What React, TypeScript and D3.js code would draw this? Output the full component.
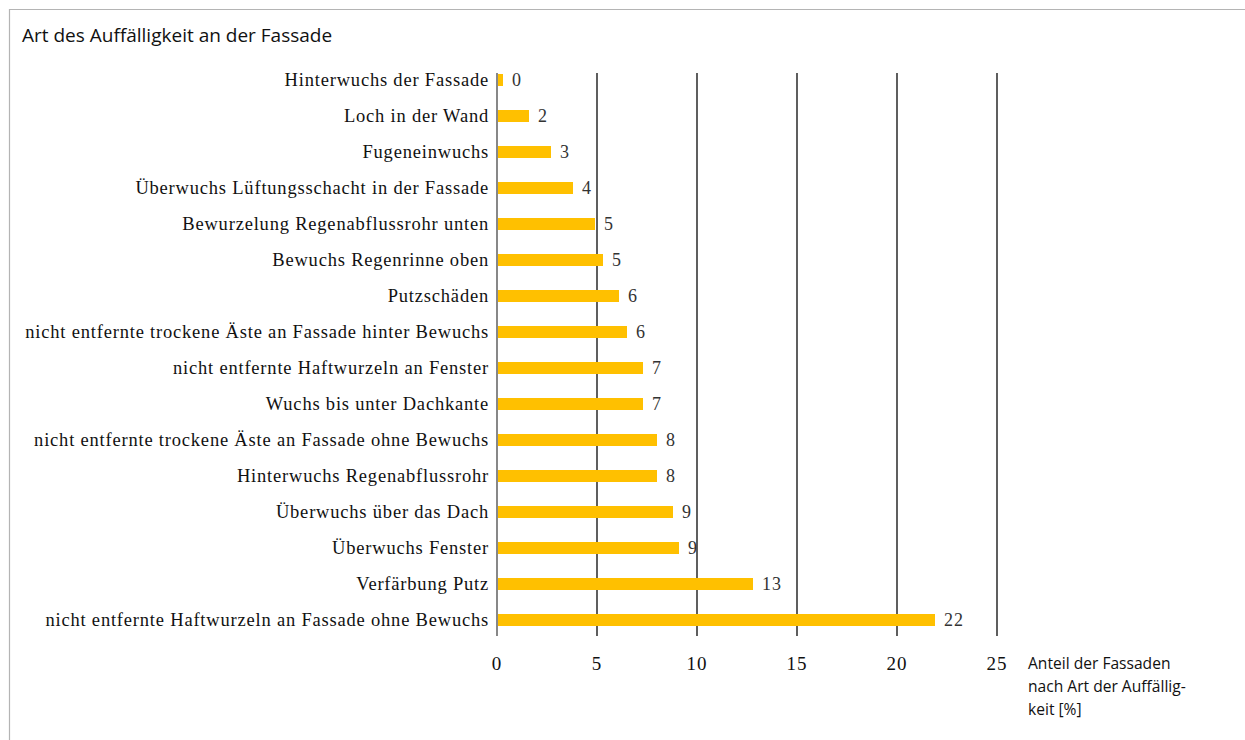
import * as d3 from "d3";
import { useEffect, useRef } from "react";

const categories = [
  "Hinterwuchs der Fassade",
  "Loch in der Wand",
  "Fugeneinwuchs",
  "Überwuchs Lüftungsschacht in der Fassade",
  "Bewurzelung Regenabflussrohr unten",
  "Bewuchs Regenrinne oben",
  "Putzschäden",
  "nicht entfernte trockene Äste an Fassade hinter Bewuchs",
  "nicht entfernte Haftwurzeln an Fenster",
  "Wuchs bis unter Dachkante",
  "nicht entfernte trockene Äste an Fassade ohne Bewuchs",
  "Hinterwuchs Regenabflussrohr",
  "Überwuchs über das Dach",
  "Überwuchs Fenster",
  "Verfärbung Putz",
  "nicht entfernte Haftwurzeln an Fassade ohne Bewuchs",
];

// bar lengths (percent)
const values = [0.3, 1.6, 2.7, 3.8, 4.9, 5.3, 6.1, 6.5, 7.3, 7.3, 8.0, 8.0, 8.8, 9.1, 12.8, 21.9];
// printed labels next to the bars
const valueLabels = ["0", "2", "3", "4", "5", "5", "6", "6", "7", "7", "8", "8", "9", "9", "13", "22"];
const xTicks = [0, 5, 10, 15, 20, 25];

const title = "Art des Auffälligkeit an der Fassade";
const axisTitle = ["Anteil der Fassaden", "nach Art der Auffällig-", "keit [%]"];

export default function App() {
  const ref = useRef<SVGSVGElement | null>(null);

  useEffect(() => {
    if (!ref.current) return;
    const width = 1245;
    const height = 740;
    const serif = "'Liberation Serif', 'Times New Roman', serif";
    const sans = "'Open Sans', Lato, sans-serif";

    const x = d3.scaleLinear().domain([0, 25]).range([497, 997]);
    const y = d3.scalePoint<string>().domain(categories).range([80, 620]);
    const barH = 12;

    const svg = d3.select(ref.current);
    svg.selectAll("*").remove();

    svg.append("rect").attr("width", width).attr("height", height).attr("fill", "#fff");

    // frame
    svg
      .append("path")
      .attr("d", `M9.5,${height + 10} V9.5 H${width + 10}`)
      .attr("fill", "none")
      .attr("stroke", "#b4b4b4")
      .attr("stroke-width", 1.2);

    svg
      .append("text")
      .attr("x", 22)
      .attr("y", 42)
      .attr("font-family", sans)
      .attr("font-size", 19)
      .attr("fill", "#111")
      .text(title);

    // grid lines
    svg
      .append("g")
      .selectAll("line")
      .data(xTicks)
      .join("line")
      .attr("x1", (d) => x(d))
      .attr("x2", (d) => x(d))
      .attr("y1", 73)
      .attr("y2", 636)
      .attr("stroke", (d) => (d === 0 ? "#555" : "#1a1a1a"))
      .attr("stroke-width", 1.4);

    // bars
    svg
      .append("g")
      .selectAll("rect")
      .data(values)
      .join("rect")
      .attr("x", x(0) + 1)
      .attr("y", (_, i) => y(categories[i])! - barH / 2)
      .attr("width", (d) => x(d) - x(0) - 1)
      .attr("height", barH)
      .attr("fill", "#ffc000");

    // value labels
    svg
      .append("g")
      .selectAll("text")
      .data(values)
      .join("text")
      .attr("x", (d) => x(d) + 9)
      .attr("y", (_, i) => y(categories[i])!)
      .attr("dy", "0.35em")
      .attr("font-family", serif)
      .attr("font-size", 18)
      .attr("letter-spacing", 1)
      .attr("fill", "#333")
      .text((_, i) => valueLabels[i]);

    // category labels
    svg
      .append("g")
      .selectAll("text")
      .data(categories)
      .join("text")
      .attr("x", 489)
      .attr("y", (d) => y(d)!)
      .attr("dy", "0.35em")
      .attr("text-anchor", "end")
      .attr("font-family", serif)
      .attr("font-size", 18.5)
      .attr("letter-spacing", 0.8)
      .attr("fill", "#111")
      .text((d) => d);

    // x tick labels
    svg
      .append("g")
      .selectAll("text")
      .data(xTicks)
      .join("text")
      .attr("x", (d) => x(d))
      .attr("y", 663)
      .attr("dy", "0.35em")
      .attr("text-anchor", "middle")
      .attr("font-family", serif)
      .attr("font-size", 19)
      .attr("letter-spacing", 1)
      .attr("fill", "#111")
      .text((d) => d);

    // axis title
    svg
      .append("text")
      .attr("font-family", sans)
      .attr("font-size", 15.6)
      .attr("fill", "#111")
      .selectAll("tspan")
      .data(axisTitle)
      .join("tspan")
      .attr("x", 1028)
      .attr("y", (_, i) => 669 + i * 23)
      .text((d) => d);
  }, []);

  return (
    <svg
      ref={ref}
      width={1245}
      height={740}
      style={{ position: "absolute", left: 0, top: 0 }}
    ></svg>
  );
}
